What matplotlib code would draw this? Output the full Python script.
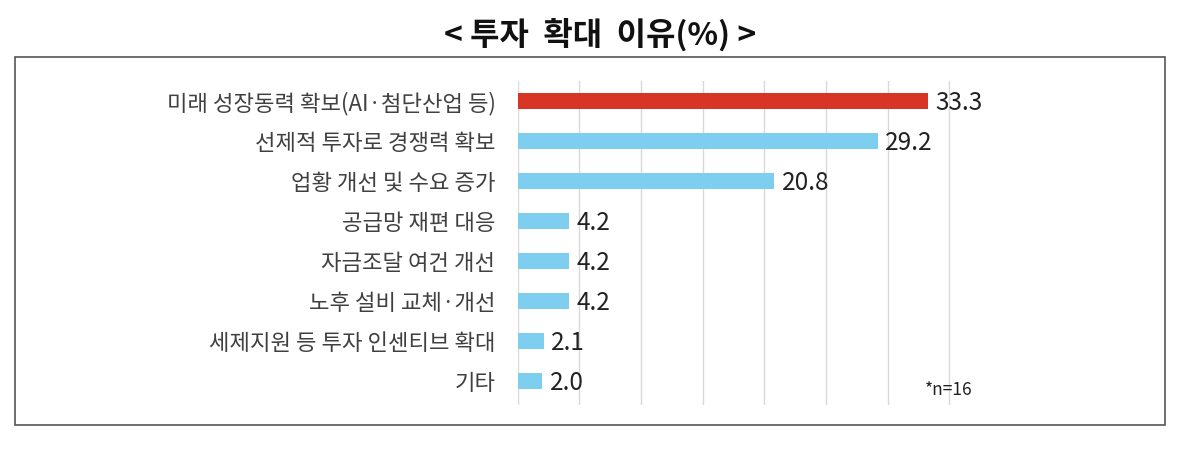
import matplotlib.pyplot as plt
from matplotlib.patches import Rectangle

plt.rcParams['font.family'] = ['Noto Sans CJK KR', 'DejaVu Sans']

categories = ["미래 성장동력 확보(AI·첨단산업 등)", "선제적 투자로 경쟁력 확보", "업황 개선 및 수요 증가",
              "공급망 재편 대응", "자금조달 여건 개선", "노후 설비 교체·개선",
              "세제지원 등 투자 인센티브 확대", "기타"]
values = [33.3, 29.2, 20.8, 4.2, 4.2, 4.2, 2.1, 2.0]
colors = ["#D93526"] + ["#7ECFEF"] * 7

fig = plt.figure(figsize=(12, 4.66), dpi=100)
ax = fig.add_axes([0.4314, 0.131, 0.3628, 0.696])

y = list(range(len(categories)))
ax.barh(y, values, height=0.4, color=colors, zorder=3)
for yi, v in zip(y, values):
    ax.text(v + 0.6, yi + 0.05, f"{v:.1f}", va="center", ha="left", fontsize=17.5, color="#222222")

ax.set_xlim(0, 35.3)
ax.set_ylim(7.6, -0.52)
ax.set_xticks(range(0, 36, 5))
ax.xaxis.grid(True, color="#d9d9d9", linewidth=1, zorder=0)
ax.tick_params(axis="x", length=0, labelbottom=False)
ax.tick_params(axis="y", length=0, pad=16)
ax.set_yticks(y)
ax.set_yticklabels(categories, fontsize=16, color="#404040")
for s in ax.spines.values():
    s.set_visible(False)

ax.text(1.045, 0.045, "*n=16", transform=ax.transAxes, ha="right", va="center",
        fontsize=12.5, color="#222222")

fig.patches.append(Rectangle((0.0125, 0.088), 0.958, 0.79, transform=fig.transFigure,
                             fill=False, edgecolor="#555555", linewidth=1.2))
fig.text(0.5, 0.925, "< 투자  확대  이유(%) >", ha="center", va="center",
         fontsize=23, fontweight="bold", color="#111111")

fig.savefig("out.png", dpi=100)
